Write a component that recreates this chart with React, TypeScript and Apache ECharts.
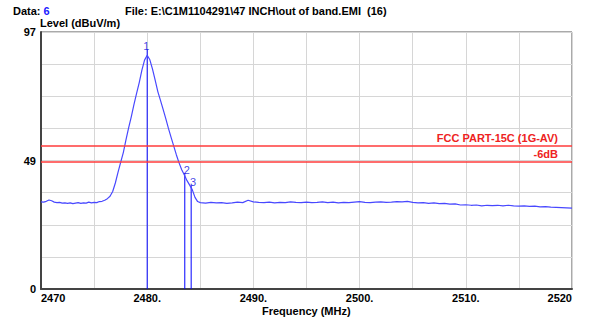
import React, { useEffect, useRef } from "react";
import * as echarts from "echarts";

const freqMHz = [
  2470.0, 2470.25, 2470.5, 2470.75, 2471.0, 2471.25, 2471.5, 2471.75, 2472.0, 2472.25,
  2472.5, 2472.75, 2473.0, 2473.25, 2473.5, 2473.75, 2474.0, 2474.25, 2474.5, 2474.75,
  2475.0, 2475.25, 2475.5, 2475.75, 2476.0, 2476.25, 2476.5, 2476.75, 2477.0, 2477.25,
  2477.5, 2477.75, 2478.0, 2478.25, 2478.5, 2478.75, 2479.0, 2479.25, 2479.5, 2479.75,
  2480.0, 2480.25, 2480.5, 2480.75, 2481.0, 2481.25, 2481.5, 2481.75, 2482.0, 2482.25,
  2482.5, 2482.75, 2483.0, 2483.25, 2483.5, 2483.75, 2484.0, 2484.25, 2484.5, 2484.75,
  2485.0, 2485.5, 2486.0, 2486.5, 2487.0, 2487.5, 2488.0, 2488.5, 2489.0, 2489.5,
  2490.0, 2490.5, 2491.0, 2491.5, 2492.0, 2492.5, 2493.0, 2493.5, 2494.0, 2494.5,
  2495.0, 2495.5, 2496.0, 2496.5, 2497.0, 2497.5, 2498.0, 2498.5, 2499.0, 2499.5,
  2500.0, 2500.5, 2501.0, 2501.5, 2502.0, 2502.5, 2503.0, 2503.5, 2504.0, 2504.5,
  2505.0, 2505.5, 2506.0, 2506.5, 2507.0, 2507.5, 2508.0, 2508.5, 2509.0, 2509.5,
  2510.0, 2510.5, 2511.0, 2511.5, 2512.0, 2512.5, 2513.0, 2513.5, 2514.0, 2514.5,
  2515.0, 2515.5, 2516.0, 2516.5, 2517.0, 2517.5, 2518.0, 2518.5, 2519.0, 2519.5,
  2520.0,
];

const levelDb = [
  32.9, 32.8, 33.1, 33.6, 33.3, 32.8, 32.6, 32.7, 32.4, 32.5,
  32.3, 32.5, 32.2, 32.4, 32.6, 32.3, 32.5, 32.4, 32.8, 32.5,
  32.7, 32.6, 33.0, 33.1, 33.5, 34.1, 35.0, 36.8, 40.0, 44.0,
  47.8, 51.5, 56.3, 60.8, 65.0, 69.6, 73.8, 77.9, 82.6, 86.4,
  88.2, 86.5, 83.0, 78.8, 74.5, 71.2, 67.8, 64.3, 60.6, 57.2,
  53.9, 50.6, 47.6, 45.0, 43.0, 40.9, 39.2, 37.4, 34.6, 33.0,
  32.6, 32.4, 32.7, 32.5, 32.6, 32.3, 32.5, 32.8, 32.6, 33.5,
  32.9, 32.7, 32.6, 32.8, 32.5, 32.7, 32.6, 32.9, 32.7, 32.6,
  32.8, 32.6, 32.7, 32.9, 32.6, 32.8, 32.5, 32.7, 32.6, 32.8,
  33.0, 32.7, 32.6, 32.8, 32.9, 32.7, 32.8, 33.0, 32.9, 33.1,
  32.7, 32.5, 32.6, 32.3, 32.5, 32.2, 32.3, 32.0, 32.1, 31.7,
  31.8, 31.6, 31.7, 31.4, 31.6, 31.5, 31.6, 31.4, 31.6, 31.4,
  31.3, 31.4, 31.2, 31.3, 31.0, 31.1, 30.9, 30.8, 30.7, 30.6,
  30.5,
];

const markerNames = ["1", "2", "3"];
const markerFreq = [2480.0, 2483.54, 2484.14];
const markerTop = [90.5, 43.8, 39.2];

const limitNames = ["FCC PART-15C (1G-AV)", "-6dB"];
const limitLevels = [54, 48];

const yTickLabels: Record<string, string> = { "0": "0", "48.5": "49", "97": "97" };
const xTickLabels: Record<string, string> = {
  "2470": "2470", "2480": "2480.", "2490": "2490.", "2500": "2500.", "2510": "2510.", "2520": "2520",
};

const FONT = "'Liberation Sans', Arial, sans-serif";

export default function App() {
  const ref = useRef<HTMLDivElement>(null);
  useEffect(() => {
    if (!ref.current) return;
    const chart = echarts.init(ref.current, undefined, { renderer: "svg" });
    const trace = freqMHz.map((f, i) => [f, levelDb[i]]);
    const markerLines = markerNames.map((name, i) => ({
      type: "line" as const,
      name: "m" + name,
      symbol: "none",
      silent: true,
      lineStyle: { color: "#0000ff", width: 1 },
      z: 3,
      data: [
        [markerFreq[i], markerTop[i]],
        [markerFreq[i], 0],
      ],
    }));
    const markerLabels = {
      type: "scatter" as const,
      name: "markerLabels",
      silent: true,
      symbolSize: 1,
      itemStyle: { color: "rgba(0,0,0,0)" },
      z: 5,
      data: markerNames.map((name, i) => ({
        value: [markerFreq[i], markerTop[i]],
        label: {
          show: true,
          formatter: name,
          position: "top" as const,
          distance: 0,
          offset: [i === 0 ? -1 : 2, 3],
          color: "#1010e0",
          fontSize: 11,
          fontFamily: FONT,
        },
      })),
    };
    chart.setOption({
      animation: false,
      backgroundColor: "#ffffff",
      grid: {
        left: 41, right: 17, top: 32, bottom: 31,
        show: true, borderColor: "#555555", borderWidth: 1,
      },
      graphic: [
        {
          type: "text", left: 13, top: 5,
          style: {
            text: "{a|Data: }{b|6}",
            rich: {
              a: { fontFamily: FONT, fontSize: 11, fontWeight: "bold", fill: "#000" },
              b: { fontFamily: FONT, fontSize: 11, fontWeight: "bold", fill: "#1a1aff" },
            },
          },
        },
        {
          type: "text", left: 125, top: 5,
          style: {
            text: "File: E:\\C1M1104291\\47 INCH\\out of band.EMI  (16)",
            fontFamily: FONT, fontSize: 11, fontWeight: "bold", fill: "#000",
          },
        },
        {
          type: "text", left: 40, top: 17,
          style: { text: "Level (dBuV/m)", fontFamily: FONT, fontSize: 11, fontWeight: "bold", fill: "#000" },
        },
        {
          type: "text", left: 262, top: 305,
          style: { text: "Frequency (MHz)", fontFamily: FONT, fontSize: 11, fontWeight: "bold", fill: "#000" },
        },
      ],
      xAxis: {
        type: "value", min: 2470, max: 2520, interval: 5,
        axisLine: { show: true, onZero: false, lineStyle: { color: "#444444", width: 2 } },
        axisTick: { show: false },
        splitLine: { show: true, lineStyle: { color: "#d6d6d6", width: 1 } },
        axisLabel: {
          color: "#000", fontFamily: FONT, fontSize: 11, fontWeight: "bold", margin: 3,
          alignMinLabel: "left", alignMaxLabel: "right",
          formatter: (v: number) => xTickLabels[String(Math.round(v))] && Math.abs(v - Math.round(v)) < 1e-6 ? xTickLabels[String(Math.round(v))] : "",
        },
      },
      yAxis: {
        type: "value", min: 0, max: 97, interval: 12.125,
        axisLine: { show: true, lineStyle: { color: "#444444", width: 2 } },
        axisTick: { show: false },
        splitLine: { show: true, lineStyle: { color: "#d6d6d6", width: 1 } },
        axisLabel: {
          color: "#000", fontFamily: FONT, fontSize: 11, fontWeight: "bold", margin: 5,
          formatter: (v: number) => yTickLabels[String(v)] ?? "",
        },
      },
      series: [
        {
          type: "line",
          name: "trace",
          symbol: "none",
          data: trace,
          lineStyle: { color: "#4848ff", width: 1.2 },
          z: 4,
          markLine: {
            silent: true,
            symbol: "none",
            lineStyle: { color: "#ff3b3b", width: 1.5, type: "solid" },
            data: limitNames.map((n, i) => ({
              yAxis: limitLevels[i],
              label: {
                show: true, formatter: n, position: "insideEndTop", distance: [14, 2],
                color: "#ee2222", fontFamily: FONT, fontSize: 11, fontWeight: "bold",
              },
            })),
          },
        },
        ...markerLines,
        markerLabels,
      ],
    });
    return () => chart.dispose();
  }, []);
  return <div ref={ref} style={{ width: 589, height: 320, position: "absolute", left: 0, top: 0 }} />;
}
